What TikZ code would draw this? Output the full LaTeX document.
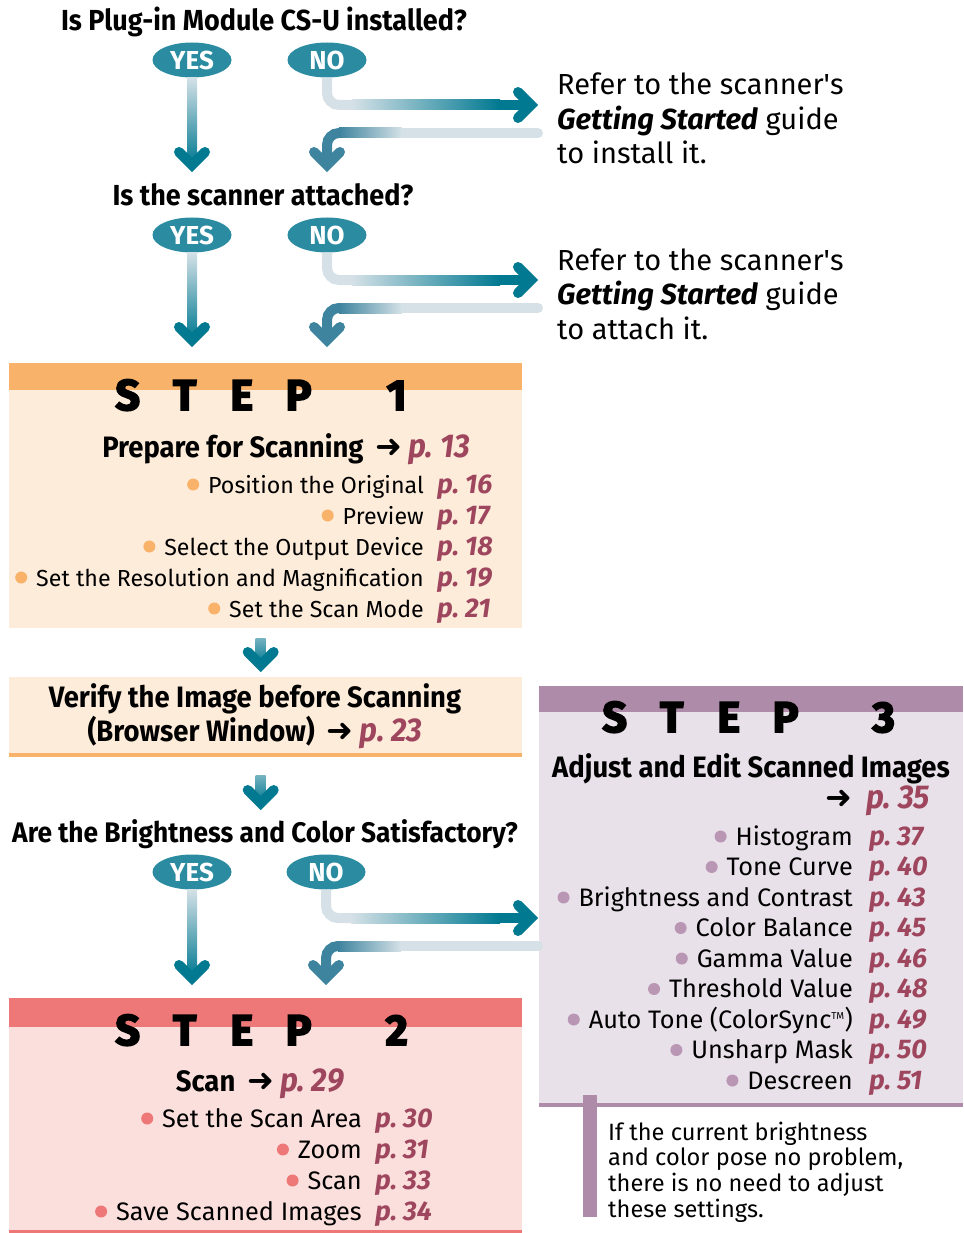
\documentclass[tikz,border=0pt]{standalone}
\usepackage{fontspec}
\setmainfont{Fira Sans}
\newfontfamily\qfont[FakeStretch=0.93]{Fira Sans}
\newfontfamily\stepfont[BoldFeatures={FakeBold=4}]{Fira Sans}
\newfontfamily\arrowfont{DejaVu Sans}
\usetikzlibrary{shapes.geometric, calc, positioning}

\definecolor{tealdark}{RGB}{0,121,145}
\definecolor{teallight}{RGB}{213,225,231}
\definecolor{tealoval}{RGB}{43,139,161}
\definecolor{tealret}{RGB}{62,132,158}
\definecolor{pagecol}{RGB}{158,70,94}
\definecolor{orangeband}{RGB}{249,178,106}
\definecolor{orangebody}{RGB}{254,236,218}
\definecolor{salmonband}{RGB}{238,119,120}
\definecolor{salmonbody}{RGB}{251,223,220}
\definecolor{mauveband}{RGB}{174,139,168}
\definecolor{mauvebody}{RGB}{233,225,233}
\definecolor{mauvedot}{RGB}{184,150,180}

\tikzstyle{question} = [inner sep=0pt, anchor=base,
    font=\qfont\bfseries\fontsize{29}{34}\selectfont]
\tikzstyle{yesno} = [ellipse, fill=tealoval, text=white, inner sep=0pt,
    minimum width=79pt, minimum height=35pt,
    font=\bfseries\fontsize{26}{26}\selectfont]
\tikzstyle{refer} = [inner sep=0pt, anchor=base west, font=\fontsize{29}{34.5}\selectfont]
\tikzstyle{stepbox} = [rectangle, inner sep=0pt, anchor=north west]
\tikzstyle{stepword} = [inner sep=0pt, anchor=base west, font=\stepfont\bfseries\fontsize{43}{43}\selectfont]
\tikzstyle{heading} = [inner sep=0pt, anchor=base, font=\qfont\bfseries\fontsize{29.5}{31}\selectfont]
\tikzstyle{items} = [inner sep=0pt, anchor=base east, font=\fontsize{23.2}{31}\selectfont]
\tikzstyle{bigitems} = [items, font=\fontsize{25.3}{31}\selectfont]
\tikzstyle{pages} = [inner sep=0pt, anchor=base west, text=pagecol,
    font=\bfseries\itshape\fontsize{27}{31}\selectfont]
\tikzstyle{note} = [inner sep=0pt, anchor=base west, font=\fontsize{23.6}{25}\selectfont]
\tikzstyle{shaft} = [line width=10pt]
\tikzstyle{head} = [line width=10pt, line cap=round, line join=miter]

\newcommand{\pg}[1]{\textcolor{pagecol}{\bfseries\itshape\fontsize{33}{33}\selectfont p.~#1}}
\newcommand{\goto}{{\arrowfont\fontsize{32}{32}\selectfont ➜}}
\newcommand{\bul}[1]{\tikz[baseline=-8.5pt]\fill[#1] (0,0) circle (6pt);\hspace{9pt}}
\newcommand{\apos}{\textquotesingle}
\newcommand{\stepletters}[1]{\makebox[57pt]{S}\makebox[57pt]{T}\makebox[57pt]{E}\makebox[57pt]{P}\hspace{41pt}\makebox[57pt]{#1}}

% #1 start, #2 tip, #3 colour at the top
\newcommand{\downshaft}[3]{
  \shade[top color=#3, bottom color=tealdark] ($(#1)+(-5,0)$) rectangle ($(#2)+(5,-8)$);
  \draw[head, tealdark] ($(#2)+(-13,-20)$) -- ($(#2)+(0,-7)$) -- ($(#2)+(13,-20)$);
}
% #1 oval, #2 tip at the right
\newcommand{\noarrow}[2]{
  \draw[shaft, teallight, rounded corners=12pt] (#1.south) |- ($(#1.south |- #2)+(26,0)$);
  \shade[left color=teallight, right color=tealdark] ($(#1.south |- #2)+(25,-5)$) rectangle ($(#2)+(-38,5)$);
  \fill[tealdark] ($(#2)+(-39,-5)$) rectangle ($(#2)+(-8,5)$);
  \draw[head, tealdark] ($(#2)+(-20,-13)$) -- ($(#2)+(-7,0)$) -- ($(#2)+(-20,13)$);
}
% #1 right end, #2 tip below
\newcommand{\backarrow}[2]{
  \draw[shaft, teallight, line cap=round] (#1) -- ($(#2 |- #1)+(74,0)$);
  \shade[left color=tealret, right color=teallight] ($(#2 |- #1)+(12,-5)$) rectangle ($(#2 |- #1)+(75,5)$);
  \draw[shaft, tealret, rounded corners=12pt] ($(#2 |- #1)+(13,0)$) -- (#2 |- #1) -- ($(#2)+(0,-8)$);
  \draw[head, tealret] ($(#2)+(-13,-20)$) -- ($(#2)+(0,-7)$) -- ($(#2)+(13,-20)$);
}

\begin{document}
\begin{tikzpicture}[x=1pt, y=-1pt]
    \useasboundingbox (0,0) rectangle (963,1233);

    % is the module installed?
    \node [question] (q1) at (264,31) {Is Plug-in Module CS-U installed?};
    \node [yesno] (yes1) at (192,60) {YES};
    \node [yesno] (no1) at (327,60) {NO};
    \node [refer] (ref1) at (557,95) {\begin{tabular}[t]{@{}l@{}}Refer to the scanner\apos s\\
        \textbf{\textit{Getting Started}} guide\\ to install it.\end{tabular}};

    % is the scanner attached?
    \node [question] (q2) at (263,206) {Is the scanner attached?};
    \node [yesno] (yes2) at (192,235) {YES};
    \node [yesno] (no2) at (327,235) {NO};
    \node [refer] (ref2) at (557,270) {\begin{tabular}[t]{@{}l@{}}Refer to the scanner\apos s\\
        \textbf{\textit{Getting Started}} guide\\ to attach it.\end{tabular}};

    % step 1
    \node [stepbox, fill=orangebody, minimum width=513pt, minimum height=265pt] (step1) at (9,363) {};
    \fill [orangeband] (step1.north west) rectangle ($(step1.north east)+(0,27)$);
    \node [stepword] (word1) at ($(step1.north west)+(90,47)$) {\stepletters{1}};
    \node [heading] (head1) at (286,457) {Prepare for Scanning\hspace{12pt}\goto\hspace{6pt}\pg{13}};
    \node [items] (items1) at (424,493) {\begin{tabular}[t]{@{}r@{}}
        \bul{orangeband}Position the Original\\ \bul{orangeband}Preview\\
        \bul{orangeband}Select the Output Device\\
        \bul{orangeband}Set the Resolution and Magnification\\
        \bul{orangeband}Set the Scan Mode\end{tabular}};
    \node [pages] (pages1) at ($(items1.base east)+(13,0)$) {\begin{tabular}[t]{@{}l@{}}
        p.~16\\ p.~17\\ p.~18\\ p.~19\\ p.~21\end{tabular}};

    % verify
    \node [stepbox, fill=orangebody, minimum width=513pt, minimum height=80pt] (verify) at (9,677) {};
    \draw [orangeband, line width=4pt] ($(verify.south west)+(0,-2)$) -- ($(verify.south east)+(0,-2)$);
    \node [heading] (head2) at (255,707) {\begin{tabular}[t]{@{}c@{}}Verify the Image before Scanning\\
        (Browser Window)\hspace{12pt}\goto\hspace{6pt}\pg{23}\end{tabular}};

    % brightness and color
    \node [question, font=\qfont\bfseries\fontsize{28.3}{34}\selectfont] (q3) at (265,842) {Are the Brightness and Color Satisfactory?};
    \node [yesno] (yes3) at (192,872) {YES};
    \node [yesno] (no3) at (326,872) {NO};

    % step 2
    \node [stepbox, fill=salmonbody, minimum width=513pt, minimum height=235pt] (step2) at (9,998) {};
    \fill [salmonband] (step2.north west) rectangle ($(step2.north east)+(0,29)$);
    \draw [salmonband, line width=3pt] ($(step2.south west)+(0,-2)$) -- ($(step2.south east)+(0,-2)$);
    \node [stepword] (word2) at ($(step2.north west)+(90,47)$) {\stepletters{2}};
    \node [heading] (head3) at (260,1091) {Scan\hspace{12pt}\goto\hspace{6pt}\pg{29}};
    \node [bigitems] (items2) at (362,1127) {\begin{tabular}[t]{@{}r@{}}
        \bul{salmonband}Set the Scan Area\\ \bul{salmonband}Zoom\\
        \bul{salmonband}Scan\\ \bul{salmonband}Save Scanned Images\end{tabular}};
    \node [pages] (pages2) at ($(items2.base east)+(13,0)$) {\begin{tabular}[t]{@{}l@{}}
        p.~30\\ p.~31\\ p.~33\\ p.~34\end{tabular}};

    % step 3
    \node [stepbox, fill=mauvebody, minimum width=424pt, minimum height=421pt] (step3) at (539,686) {};
    \fill [mauveband] (step3.north west) rectangle ($(step3.north east)+(0,26)$);
    \draw [mauveband, line width=4pt] ($(step3.south west)+(0,-2)$) -- ($(step3.south east)+(0,-2)$);
    \node [stepword] (word3) at ($(step3.north west)+(47,46)$) {\stepletters{3}};
    \node [heading] (head4) at (751,777) {Adjust and Edit Scanned Images};
    \node [heading, anchor=base east] (head4pg) at (930,808) {\goto\hspace{14pt}\pg{35}};
    \node [bigitems, font=\fontsize{25.3}{30.5}\selectfont] (items3) at (853,845) {\begin{tabular}[t]{@{}r@{}}
        \bul{mauvedot}Histogram\\ \bul{mauvedot}Tone Curve\\
        \bul{mauvedot}Brightness and Contrast\\ \bul{mauvedot}Color Balance\\
        \bul{mauvedot}Gamma Value\\ \bul{mauvedot}Threshold Value\\
        \bul{mauvedot}Auto Tone (ColorSync\textsuperscript{\fontsize{10}{10}\selectfont TM})\\
        \bul{mauvedot}Unsharp Mask\\ \bul{mauvedot}Descreen\end{tabular}};
    \node [pages, font=\bfseries\itshape\fontsize{27}{30.5}\selectfont] (pages3) at ($(items3.base east)+(16,0)$)
        {\begin{tabular}[t]{@{}l@{}}p.~37\\ p.~40\\ p.~43\\ p.~45\\ p.~46\\ p.~48\\ p.~49\\ p.~50\\ p.~51\end{tabular}};

    % note
    \node [note] (note) at (608,1140) {\begin{tabular}[t]{@{}l@{}}If the current brightness\\
        and color pose no problem,\\ there is no need to adjust\\ these settings.\end{tabular}};
    \fill [mauveband] ($(note.base west)+(-25,-45)$) rectangle ($(note.base west)+(-11,77)$);

    % connectors
    \coordinate (yes1tip) at ($(yes1 |- q2.base)+(0,-34)$);
    \coordinate (no1tip) at ($(no1 |- q2.base)+(0,-34)$);
    \coordinate (no1end) at ($(ref1.base west)+(-19,10)$);
    \coordinate (back1) at ($(ref1.base west)+(-19,38)$);
    \downshaft{yes1.south}{yes1tip}{teallight}
    \noarrow{no1}{no1end}
    \backarrow{back1}{no1tip}

    \coordinate (yes2tip) at ($(yes2 |- step1.north)+(0,-16)$);
    \coordinate (no2tip) at ($(no2 |- step1.north)+(0,-16)$);
    \coordinate (no2end) at ($(ref2.base west)+(-19,10)$);
    \coordinate (back2) at ($(ref2.base west)+(-19,38)$);
    \downshaft{yes2.south}{yes2tip}{teallight}
    \noarrow{no2}{no2end}
    \backarrow{back2}{no2tip}

    \coordinate (down1) at ($(step1.south)+(-5,10)$);
    \coordinate (down1tip) at ($(verify.north)+(-5,-5)$);
    \downshaft{down1}{down1tip}{teallight!55!tealdark}
    \coordinate (down2) at ($(verify.south)+(-5,18)$);
    \coordinate (down2tip) at ($(q3.base -| down2)+(0,-32)$);
    \downshaft{down2}{down2tip}{teallight!55!tealdark}

    \coordinate (yes3tip) at ($(yes3 |- step2.north)+(0,-13)$);
    \coordinate (no3tip) at ($(no3 |- step2.north)+(0,-13)$);
    \coordinate (no3end) at ($(step3.north west)+(-1,232)$);
    \coordinate (back3) at ($(step3.north west)+(-1,260)$);
    \downshaft{yes3.south}{yes3tip}{teallight}
    \noarrow{no3}{no3end}
    \backarrow{back3}{no3tip}
\end{tikzpicture}
\end{document}
